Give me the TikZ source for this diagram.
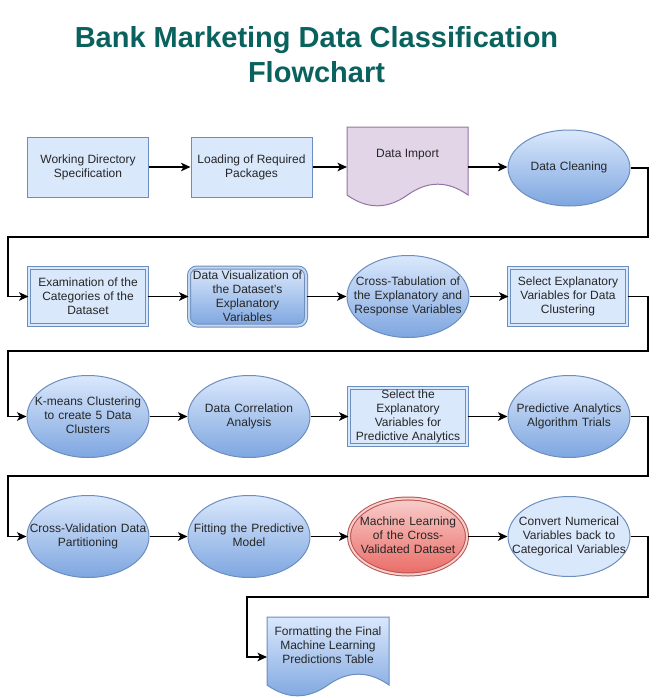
\documentclass[tikz,border=0pt]{standalone}
\usepackage{fontspec}
\setmainfont{Liberation Sans}
\usetikzlibrary{arrows.meta,shapes.geometric,calc}
\definecolor{ttl}{RGB}{10,98,94}
\definecolor{bfill}{HTML}{DAE8FC}
\definecolor{bgrad}{HTML}{7EA6E0}
\definecolor{bline}{HTML}{6C8EBF}
\definecolor{pfill}{HTML}{E1D5E7}
\definecolor{pline}{HTML}{9673A6}
\definecolor{rfill}{HTML}{F8CECC}
\definecolor{rgrad}{HTML}{EA6B66}
\definecolor{rline}{HTML}{B85450}
\newcommand\ztxt[1]{\makebox[0pt]{\vbox to 0pt{\vss\hbox{\begin{tabular}{@{}c@{}}#1\end{tabular}}\vss}}}
\tikzset{
  base/.style={font=\fontsize{12}{14}\selectfont, text=black!85, align=center, inner sep=1pt, line width=1pt},
  flatbox/.style={base, rectangle, draw=bline, fill=bfill, minimum width=121pt, minimum height=60pt},
  dblbox/.style={base, rectangle, draw=bline, fill=bfill, double=bfill, double distance=2pt, minimum width=118pt, minimum height=57pt},
  ellbase/.style={font=\fontsize{12}{14}\selectfont, text=black!85, ellipse, inner sep=0pt, line width=1pt, text height=0pt, text depth=0pt, text width=0pt},
  gradell/.style={ellbase, draw=bline, top color=bfill, bottom color=bgrad, minimum width=122pt, minimum height=82pt},
  flatell/.style={ellbase, draw=bline, fill=bfill, minimum width=122pt, minimum height=80pt},
  redell/.style={ellbase, draw=rline, top color=rfill, bottom color=rgrad, double=rfill, double distance=2pt, minimum width=118pt, minimum height=76pt},
  gradround/.style={base, rectangle, rounded corners=8pt, draw=bline, top color=bfill, bottom color=bgrad, double=bfill!80!bline, double distance=2pt, minimum width=117pt, minimum height=58pt, inner sep=0pt},
  docholder/.style={rectangle, draw=none, minimum width=121pt, minimum height=80pt, inner sep=0pt, outer sep=0pt},
  lbl/.style={base},
  flow/.style={line width=1.8pt, -{Stealth[length=9.5pt,width=8.5pt,inset=2.5pt]}},
}
\begin{document}
\begin{tikzpicture}[x=1pt,y=-1pt]
\useasboundingbox (0,0) rectangle (658,698);
% title
\node[font=\fontsize{29}{35}\selectfont\bfseries, text=ttl, align=center] (title) at (316.5,55) {Bank Marketing Data Classification\\Flowchart};

% row 1
\node[flatbox] (wd) at (88,167) {Working Directory\\Specification};
\node[flatbox] (lp) at (251.5,167) {Loading of Required\\Packages};
\node[docholder] (imp) at (407.5,167) {};
\begin{scope}[shift={(imp.north west)}]
\path[draw=pline, fill=pfill, line width=1pt] (0,0) -- (121,0) -- (121,68) .. controls (100.83,53.6) and (80.67,53.6) .. (60.5,68) .. controls (40.33,82.4) and (20.17,82.4) .. (0,68) -- cycle;
\end{scope}
\node[lbl] (impt) at ([yshift=12pt]imp.center) {Data Import};
\node[gradell, minimum height=76pt] (dc) at (569,168) {\ztxt{Data Cleaning}};

% row 2
\node[dblbox] (ex) at (88,296.5) {Examination of the\\Categories of the\\Dataset};
\node[gradround] (dv) at (247.5,296.5) {Data Visualization of\\the Dataset's\\Explanatory\\Variables};
\node[gradell] (ct) at (408,296.5) {\ztxt{Cross-Tabulation of\\the Explanatory and\\Response Variables}};
\node[dblbox] (se) at (568,296.5) {Select Explanatory\\Variables for Data\\Clustering};

% row 3
\node[gradell] (km) at (88,416.5) {\ztxt{K-means Clustering\\to create 5 Data\\Clusters}};
\node[gradell] (cor) at (249,416.5) {\ztxt{Data Correlation\\Analysis}};
\node[dblbox] (sp) at (408,416.5) {Select the\\Explanatory\\Variables for\\Predictive Analytics};
\node[gradell] (pa) at (569,416.5) {\ztxt{Predictive Analytics\\Algorithm Trials}};

% row 4
\node[gradell] (cv) at (88,536.5) {\ztxt{Cross-Validation Data\\Partitioning}};
\node[gradell] (fit) at (249,536.5) {\ztxt{Fitting the Predictive\\Model}};
\node[redell] (ml) at (408,536.5) {\ztxt{Machine Learning\\of the Cross-\\Validated Dataset}};
\node[flatell] (conv) at (569,536.5) {\ztxt{Convert Numerical\\Variables back to\\Categorical Variables}};

% final
\node[docholder, minimum width=122pt] (fmt) at (328,657) {};
\begin{scope}[shift={(fmt.north west)}]
\path[draw=bline, top color=bfill, bottom color=bgrad, line width=1pt] (0,0) -- (122,0) -- (122,68) .. controls (101.67,53.6) and (81.33,53.6) .. (61,68) .. controls (40.67,82.4) and (20.33,82.4) .. (0,68) -- cycle;
\end{scope}
\node[lbl] (fmtt) at ([yshift=12pt]fmt.center) {Formatting the Final\\Machine Learning\\Predictions Table};

% connectors
\draw[flow] (wd.east) -- (lp.west);
\draw[flow] (lp.east) -- (imp.west);
\draw[flow] (imp.east) -- (imp.east -| dc.west);
\draw[flow] (dc.east) -- (648,168) |- (8,237) |- (ex.west);
\draw[flow] (ex.east) -- (dv.west);
\draw[flow] (dv.east) -- (ct.west);
\draw[flow] (ct.east) -- (se.west);
\draw[flow] (se.east) -- (648,296.5) |- (8,351) |- (km.west);
\draw[flow] (km.east) -- (cor.west);
\draw[flow] (cor.east) -- (sp.west);
\draw[flow] (sp.east) -- (pa.west);
\draw[flow] (pa.east) -- (648,416.5) |- (8,476) |- (cv.west);
\draw[flow] (cv.east) -- (fit.west);
\draw[flow] (fit.east) -- (ml.west);
\draw[flow] (ml.east) -- (conv.west);
\draw[flow] (conv.east) -- (648,536.5) |- (247,597) |- (fmt.west);
\end{tikzpicture}
\end{document}
